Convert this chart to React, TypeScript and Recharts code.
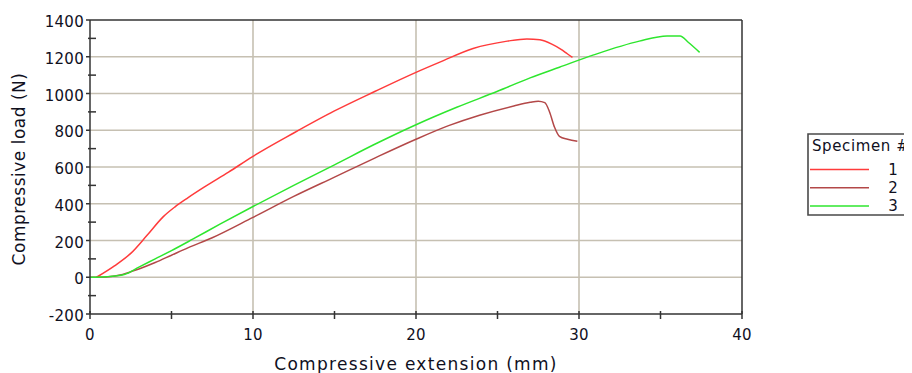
import React from 'react';
import { LineChart, Line, XAxis, YAxis, CartesianGrid, ReferenceLine } from 'recharts';

// extension (mm), load (N)
const specimen1: [number, number][] = [
  [0.4, 0], [1.5, 62], [2.5, 130], [3.5, 228], [4.5, 330], [5.2, 382], [6, 432], [7, 490],
  [8.5, 572], [10, 658], [12.5, 785], [15, 905], [17.5, 1012], [20, 1115], [21.5, 1172],
  [23.5, 1245], [25.6, 1285], [26.8, 1297], [27.6, 1292], [28.3, 1270], [28.9, 1240],
  [29.3, 1215], [29.6, 1197],
];
const specimen2: [number, number][] = [
  [0, 0], [1, 2], [2, 15], [2.5, 30], [3, 45], [4, 80], [5, 120], [6, 160], [7.5, 215], [10, 326],
  [12.5, 440], [15, 545], [17.5, 650], [20, 751], [22, 825], [23.9, 882], [26, 932], [27, 952],
  [27.5, 958], [27.9, 950], [28.2, 898], [28.5, 816], [28.8, 767], [29.3, 751], [29.9, 740],
];
const specimen3: [number, number][] = [
  [0, 0], [1, 3], [2.1, 15], [3, 55], [4, 100], [5, 145], [6.3, 207], [8, 290], [10, 385],
  [12.5, 500], [15, 612], [17.5, 725], [20, 830], [22.5, 925], [25, 1012], [27, 1085], [28.8, 1143],
  [30.9, 1210], [33.7, 1285], [35.4, 1313], [36.2, 1313], [36.7, 1279], [37.4, 1224],
];

const seriesNames = ['1', '2', '3'];
const seriesColors = ['#ff3b3b', '#b34848', '#2ee62e'];

const xTicks = [0, 5, 10, 15, 20, 25, 30, 35, 40];
const xGrid = [10, 20, 30];
const yTicks = [-200, -100, 0, 100, 200, 300, 400, 500, 600, 700, 800, 900, 1000, 1100, 1200, 1300, 1400];
const yGrid = [0, 200, 400, 600, 800, 1000, 1200];

const toRows = (pts: [number, number][]) => pts.map(([x, y]) => ({ x, y }));
const allSeries = [specimen1, specimen2, specimen3].map(toRows);

const textColor = '#10101e';
const axisColor = '#333';
const gridColor = '#c6c0b2';
const font = '"DejaVu Sans", Verdana, sans-serif';

const XTick = (props: any) => {
  const { x, y, payload } = props;
  const major = payload.value % 10 === 0;
  return (
    <g>
      <line x1={x} x2={x} y1={y - 3} y2={y + 5} stroke={axisColor} strokeWidth={1.5} />
      {major && (
        <text x={x} y={y + 26} textAnchor="middle" fontSize={15} letterSpacing={0.3} fill={textColor}>
          {payload.value}
        </text>
      )}
    </g>
  );
};

const YTick = (props: any) => {
  const { x, y, payload } = props;
  const major = payload.value % 200 === 0;
  return (
    <g>
      {major ? (
        <line x1={x - 4} x2={x} y1={y} y2={y} stroke={axisColor} strokeWidth={1.5} />
      ) : (
        <line x1={x - 2} x2={x + 6} y1={y} y2={y} stroke={axisColor} strokeWidth={1.5} />
      )}
      {major && (
        <text x={x - 6} y={y + 7} textAnchor="end" fontSize={15} letterSpacing={0.3} fill={textColor}>
          {payload.value}
        </text>
      )}
    </g>
  );
};

const XTitle = (props: any) => {
  const { x, y, width } = props.viewBox;
  return (
    <text x={x + width / 2} y={y + 56} textAnchor="middle" fontSize={17} letterSpacing={1.3} fill={textColor}>
      Compressive extension (mm)
    </text>
  );
};

const YTitle = (props: any) => {
  const { y, height } = props.viewBox;
  const cx = 17;
  const cy = y + height / 2 + 2;
  return (
    <text
      x={cx}
      y={cy}
      textAnchor="middle"
      transform={`rotate(-90, ${cx}, ${cy})`}
      fontSize={17}
      letterSpacing={0.5}
      fill={textColor}
    >
      Compressive load (N)
    </text>
  );
};

const SpecimenLegend = () => (
  <div
    style={{
      position: 'absolute',
      left: 799,
      top: 125,
      width: 105,
      height: 83,
      overflow: 'hidden',
    }}
  >
    <svg width={105} height={83} style={{ fontFamily: font }}>
      <path d="M105,1 H1 V82 H105" fill="none" stroke="#4a4a4a" strokeWidth={1.6} />
      <text x={5} y={18} fontSize={15} letterSpacing={0.6} fill={textColor}>
        Specimen #
      </text>
      {seriesNames.map((name, i) => (
        <g key={name}>
          <line x1={3} x2={62} y1={36.5 + i * 18.3} y2={36.5 + i * 18.3} stroke={seriesColors[i]} strokeWidth={1.5} />
          <text x={86} y={41.5 + i * 18.3} textAnchor="middle" fontSize={15} fill={textColor}>
            {name}
          </text>
        </g>
      ))}
    </svg>
  </div>
);

export default function App() {
  return (
    <div style={{ position: 'relative', width: 904, height: 365, fontFamily: font }}>
      <LineChart width={904} height={365} margin={{ top: 12, right: 170, bottom: 0, left: 0 }}>
        <CartesianGrid
          stroke={gridColor}
          strokeWidth={1.6}
          horizontalValues={yGrid}
          verticalValues={xGrid}
        />
        <XAxis
          type="number"
          dataKey="x"
          domain={[0, 40]}
          ticks={xTicks}
          interval={0}
          height={59}
          tickSize={0}
          tickMargin={0}
          tickLine={false}
          tick={<XTick />}
          stroke={axisColor}
          strokeWidth={1.5}
          allowDataOverflow
          label={{ content: <XTitle /> } as any}
        />
        <YAxis
          type="number"
          dataKey="y"
          domain={[-200, 1400]}
          ticks={yTicks}
          interval={0}
          width={82}
          tickSize={0}
          tickMargin={0}
          tickLine={false}
          tick={<YTick />}
          stroke={axisColor}
          strokeWidth={1.5}
          allowDataOverflow
          label={{ content: <YTitle /> } as any}
        />
        <ReferenceLine y={1400} stroke={axisColor} strokeWidth={1.5} />
        <ReferenceLine x={40} stroke={axisColor} strokeWidth={1.5} />
        {allSeries.map((rows, i) => (
          <Line
            key={seriesNames[i]}
            data={rows}
            dataKey="y"
            type="monotone"
            stroke={seriesColors[i]}
            strokeWidth={1.5}
            dot={false}
            isAnimationActive={false}
          />
        ))}
      </LineChart>
      <SpecimenLegend />
    </div>
  );
}
